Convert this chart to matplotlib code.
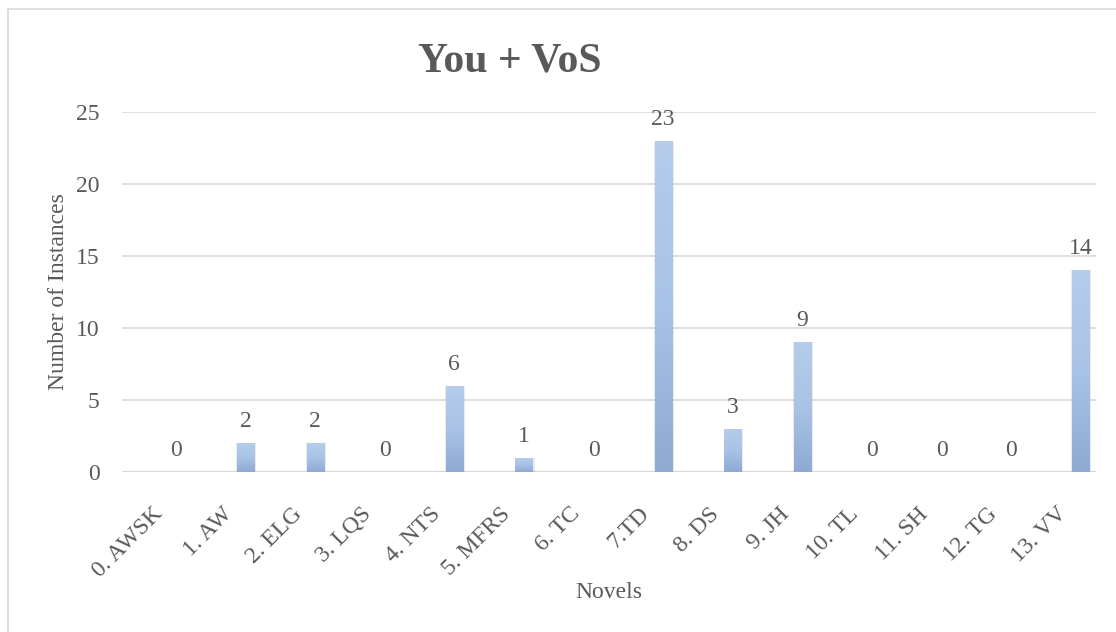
import numpy as np
import matplotlib
matplotlib.use("Agg")
import matplotlib.pyplot as plt
from matplotlib.colors import LinearSegmentedColormap
from matplotlib.patches import Rectangle
from matplotlib.transforms import ScaledTranslation

categories = ["0. AWSK", "1. AW", "2. ELG", "3. LQS", "4. NTS", "5. MFRS", "6. TC",
              "7.TD", "8. DS", "9. JH", "10. TL", "11. SH", "12. TG", "13. VV"]
values = [0, 2, 2, 0, 6, 1, 0, 23, 3, 9, 0, 0, 0, 14]
yticks = [0, 5, 10, 15, 20, 25]

TEXT = "#595959"
GRID = "#d9d9d9"

plt.rcParams["font.family"] = ["Liberation Serif", "DejaVu Serif"]

fig = plt.figure(figsize=(11.16, 6.32), dpi=100)
ax = fig.add_axes([122 / 1116, 1 - 472 / 632, (1096 - 122) / 1116, (472 - 112) / 632])

# chart frame (only left/top visible in the reference crop)
fig.patches.append(Rectangle((8 / 1116, -0.1), 1.2, 1 - 9 / 632 + 0.1, transform=fig.transFigure,
                             fill=False, edgecolor=GRID, linewidth=1.2, zorder=0))

x = np.arange(len(categories))
width = 0.245

# soft shadow under bars
ax.bar(x + 0.01, values, width=width + 0.04, color="#000000", alpha=0.08, zorder=2,
       linewidth=0)
bars = ax.bar(x, values, width=width, color="#a3bde3", zorder=3, linewidth=0)

cmap = LinearSegmentedColormap.from_list("bar", ["#8eaad3", "#a9c3e6", "#b5cdeb"])
grad = np.linspace(0, 1, 256).reshape(-1, 1)
for b, v in zip(bars, values):
    if v <= 0:
        continue
    x0 = b.get_x()
    im = ax.imshow(grad, cmap=cmap, origin="lower", aspect="auto",
                   extent=(x0, x0 + b.get_width(), 0, v), zorder=4)
    im.set_clip_path(b)

for xi, v in zip(x, values):
    ax.annotate(str(v), (xi, v), xytext=(0, 11.5), textcoords="offset points",
                ha="center", va="baseline", fontsize=17, color=TEXT)

ax.set_xlim(-0.776, 13.22)
ax.set_ylim(0, 25)
ax.set_yticks(yticks)
ax.yaxis.grid(True, color=GRID, linewidth=1.2, zorder=0)
ax.set_axisbelow(True)
for s in ax.spines.values():
    s.set_visible(False)
ax.axhline(0, color=GRID, linewidth=1.6, zorder=1)
ax.tick_params(axis="both", length=0, labelsize=17, labelcolor=TEXT)
ax.tick_params(axis="y", pad=16)
ax.set_xticks(x)
ax.set_xticklabels(categories, rotation=45, ha="right", rotation_mode="anchor")
ax.tick_params(axis="x", pad=14)
shift = ScaledTranslation(-24 / 100, -12 / 100, fig.dpi_scale_trans)
for lbl in ax.get_xticklabels():
    lbl.set_transform(lbl.get_transform() + shift)

ax.set_ylabel("Number of Instances", fontsize=17, color=TEXT, labelpad=5)
fig.text(609 / 1116, 1 - 593 / 632, "Novels", ha="center", va="center", fontsize=17, color=TEXT)
fig.text(510 / 1116, 1 - 61 / 632, "You + VoS", ha="center", va="center", fontsize=30,
         fontweight="bold", color=TEXT)

fig.savefig("out.png", dpi=100)
